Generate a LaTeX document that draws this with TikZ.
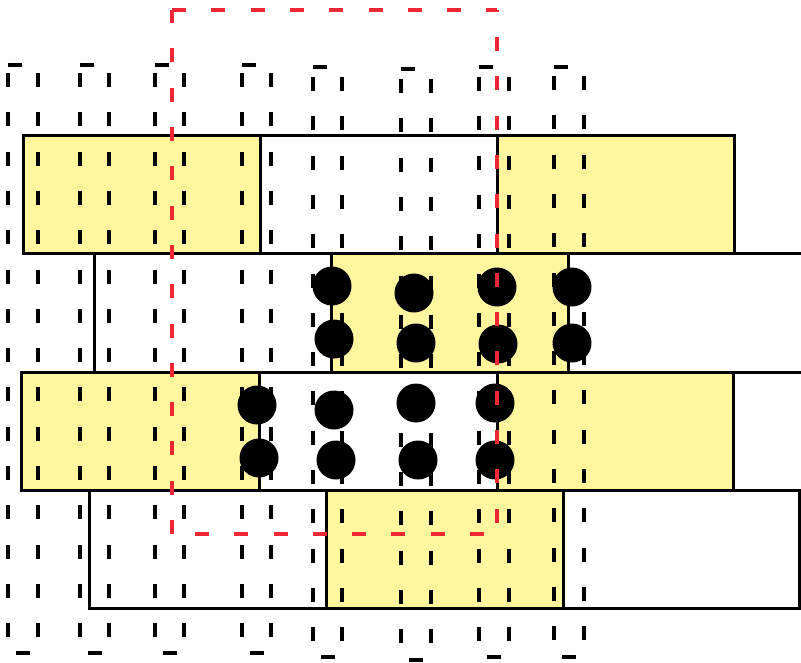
\documentclass[tikz,border=0pt]{standalone}
\definecolor{cellyellow}{RGB}{255,246,158}
\definecolor{windowred}{RGB}{240,40,52}
\begin{document}
\begin{tikzpicture}[x=1pt,y=-1pt,
  cellline/.style={draw=black,line width=3pt},
  colline/.style={draw=black,line width=3.6pt,dash pattern=on 14pt off 25.3pt},
  capdash/.style={draw=black,line width=3.4pt},
  bead/.style={circle,fill=black,inner sep=0pt,minimum size=39pt},
  window/.style={draw=windowred,line width=3.4pt,dash pattern=on 14pt off 25.3pt}
]
\useasboundingbox (0,0) rectangle (801,662);

% brick rows: top y, bottom y, four x borders, colour of the three cells
\foreach \yt/\yb/\xa/\xb/\xc/\xd/\ca/\cb/\cc in {
    135/253/23/260/497/734/cellyellow/white/cellyellow,
    253/372/94/331/568/806/white/cellyellow/white,
    372/490/21/259/497/733/cellyellow/white/cellyellow,
    490/608/89/326/563/799/white/cellyellow/white}{
  \fill[\ca] (\xa,\yt) rectangle (\xb,\yb);
  \fill[\cb] (\xb,\yt) rectangle (\xc,\yb);
  \fill[\cc] (\xc,\yt) rectangle (\xd,\yb);
}
\foreach \yt/\yb/\xa/\xb/\xc/\xd in {
    135/253/23/260/497/734,
    253/372/94/331/568/806,
    372/490/21/259/497/733,
    490/608/89/326/563/799}{
  \draw[cellline] (\xa,\yt) rectangle (\xd,\yb);
  \draw[cellline] (\xb,\yt) -- (\xb,\yb);
  \draw[cellline] (\xc,\yt) -- (\xc,\yb);
}

% dashed column pairs: left x, right x, top cap y, first dash y, bottom cap y
\foreach \xl/\xr/\ct/\ds/\cbt in {
    8/38/65/73/653, 80/109/65/73/653, 155/184/65/73/653, 242/271/65/73/653,
    313/342/67/77/657, 401/431/69/79/660, 479/509/67/77/657, 554/584/67/76/657}{
  \draw[colline] (\xl,\ds) -- ++(0,564);
  \draw[colline] (\xr,\ds) -- ++(0,564);
  \draw[capdash] (\xl,\ct) -- ++(14,0);
  \draw[capdash] (\xl+8,\cbt) -- ++(14,0);
}

% beads
\foreach \n/\px/\py in {
    a1/332/286, a2/414/293, a3/497/287, a4/572/287,
    b1/334/339, b2/416/343, b3/498/344, b4/572/343,
    c1/257/405, c2/334/410, c3/416/403, c4/495/403,
    d1/259/458, d2/336/460, d3/418/460, d4/495/460}{
  \node[bead] (\n) at (\px,\py) {};
}

% red dashed window
\coordinate (wtl) at (172,10);
\coordinate (wtr) at (497,10);
\coordinate (wbr) at (497,534);
\coordinate (wbl) at (172,534);
\draw[window] (wtl) -- (wtr);
\draw[window,dash phase=12.3pt] (wtr) -- (wbr);
\draw[window,dash phase=26.3pt] (wbr) -- (wbl);
\draw[window,dash phase=0pt] (wbl) -- (wtl);
\end{tikzpicture}
\end{document}
